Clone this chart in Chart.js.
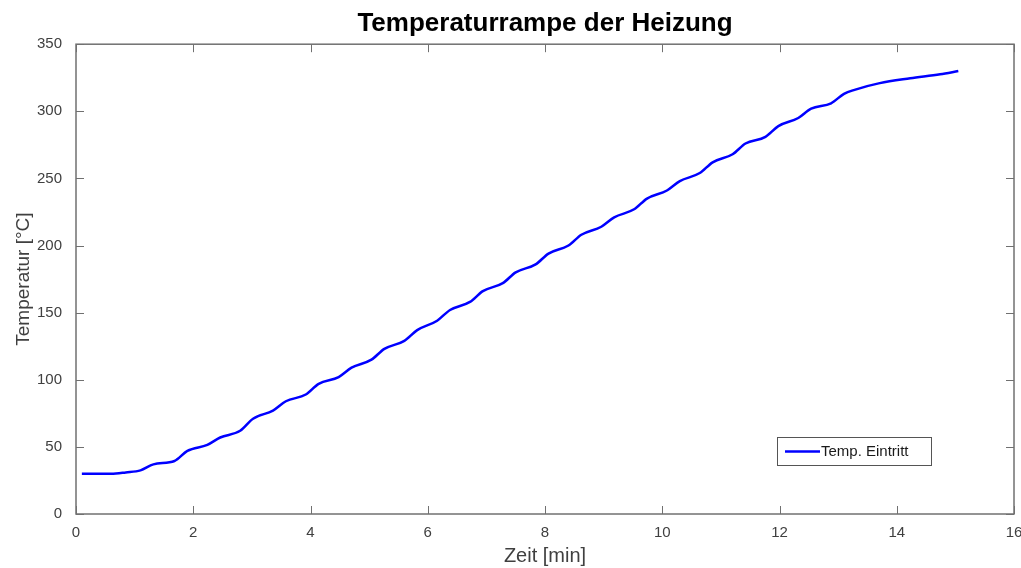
<!DOCTYPE html>
<html>
<head>
<meta charset="utf-8">
<script src="https://cdn.jsdelivr.net/npm/chart.js@4"></script>
<style>
  html, body { margin: 0; padding: 0; background: #fff; }
  #wrap { width: 1021px; height: 568px; }
</style>
</head>
<body>
<div id="wrap"><canvas id="rampChart"></canvas></div>
<script>
// values (time in min, temperature in °C)
const timeMin = [0.1, 0.6, 0.85, 1.1, 1.32, 1.68, 1.9, 2.24, 2.46, 2.8, 3.02, 3.36, 3.58, 3.92, 4.14,
  4.48, 4.7, 5.04, 5.26, 5.6, 5.82, 6.16, 6.38, 6.72, 6.94, 7.28, 7.5, 7.84, 8.06, 8.4, 8.62,
  8.96, 9.18, 9.52, 9.74, 10.08, 10.3, 10.64, 10.86, 11.2, 11.42, 11.76, 11.98, 12.32, 12.54,
  12.88, 13.1, 13.28, 13.71, 14.23, 14.74, 15.05];
const tempC = [30, 30, 31, 32.5, 37, 39.5, 47, 51.5, 57, 62, 71, 77, 84, 89, 97,
  102, 109, 115, 123, 129, 137, 144, 152, 158, 166, 172, 180, 186, 194, 200, 208,
  214, 221, 227, 235, 241, 248, 254, 262, 268, 276, 281, 289, 295, 302,
  306, 313, 316, 321, 324.6, 327.6, 330];

const seriesName = 'Temp. Eintritt';
const chartTitle = 'Temperaturrampe der Heizung';
const xTitle = 'Zeit [min]';
const yTitle = 'Temperatur [°C]';

const points = timeMin.map((t, i) => ({ x: t, y: tempC[i] }));
const FONT = '"Liberation Sans", Arial, sans-serif';

// MATLAB style box with inward ticks + legend inside the axes
const boxPlugin = {
  id: 'boxPlugin',
  afterDraw(chart) {
    const { ctx, chartArea: a, scales } = chart;
    const tick = 8;
    ctx.save();
    ctx.strokeStyle = '#707070';
    ctx.lineWidth = 1.5;
    ctx.strokeRect(a.left, a.top, a.right - a.left, a.bottom - a.top);
    ctx.lineWidth = 1;
    ctx.beginPath();
    scales.x.ticks.forEach(t => {
      const px = Math.round(scales.x.getPixelForValue(t.value)) + 0.5;
      ctx.moveTo(px, a.bottom); ctx.lineTo(px, a.bottom - tick);
      ctx.moveTo(px, a.top); ctx.lineTo(px, a.top + tick);
    });
    scales.y.ticks.forEach(t => {
      const py = Math.round(scales.y.getPixelForValue(t.value)) + 0.5;
      ctx.moveTo(a.left, py); ctx.lineTo(a.left + tick, py);
      ctx.moveTo(a.right, py); ctx.lineTo(a.right - tick, py);
    });
    ctx.stroke();

    // legend box
    const lx = a.right - 237, ly = a.bottom - 77, lw = 154, lh = 28;
    ctx.fillStyle = '#fff';
    ctx.fillRect(lx, ly, lw, lh);
    ctx.strokeStyle = '#555';
    ctx.lineWidth = 1;
    ctx.strokeRect(lx + 0.5, ly + 0.5, lw, lh);
    ctx.strokeStyle = '#0000ff';
    ctx.lineWidth = 2.5;
    ctx.beginPath();
    ctx.moveTo(lx + 8, ly + lh / 2 + 0.5);
    ctx.lineTo(lx + 43, ly + lh / 2 + 0.5);
    ctx.stroke();
    ctx.fillStyle = '#1a1a1a';
    ctx.font = '15px ' + FONT;
    ctx.textBaseline = 'middle';
    ctx.fillText(chart.data.datasets[0].label, lx + 44, ly + lh / 2 + 1);
    ctx.restore();
  }
};

new Chart(document.getElementById('rampChart'), {
  type: 'line',
  data: {
    datasets: [{
      label: seriesName,
      data: points,
      borderColor: '#0000ff',
      borderWidth: 2.5,
      pointRadius: 0,
      fill: false,
      cubicInterpolationMode: 'monotone'
    }]
  },
  options: {
    responsive: true,
    maintainAspectRatio: false,
    animation: false,
    layout: { padding: { left: 0, right: 7, top: 0, bottom: 0 } },
    plugins: {
      legend: { display: false },
      tooltip: { enabled: false },
      title: {
        display: true,
        fullSize: false,
        text: chartTitle,
        color: '#000',
        font: { family: FONT, size: 26, weight: 'bold' },
        padding: { top: 8, bottom: 5 }
      }
    },
    scales: {
      x: {
        type: 'linear',
        min: 0,
        max: 16,
        grid: { display: false },
        border: { display: false },
        ticks: {
          stepSize: 2,
          color: '#404040',
          padding: 2,
          font: { family: FONT, size: 15 }
        },
        title: {
          display: true,
          text: xTitle,
          color: '#404040',
          padding: { top: 0, bottom: 0 },
          font: { family: FONT, size: 20 }
        },
        afterFit(scale) {
          scale.height = 54;
          scale.paddingRight = 0;
        }
      },
      y: {
        min: 0,
        max: 350,
        grid: { display: false },
        border: { display: false },
        ticks: {
          stepSize: 50,
          color: '#404040',
          padding: 6,
          font: { family: FONT, size: 15 }
        },
        title: {
          display: true,
          text: yTitle,
          color: '#404040',
          padding: { top: 12, bottom: 0 },
          font: { family: FONT, size: 19 }
        },
        afterFit(scale) { scale.width = 76; }
      }
    }
  },
  plugins: [boxPlugin]
});
</script>
</body>
</html>
